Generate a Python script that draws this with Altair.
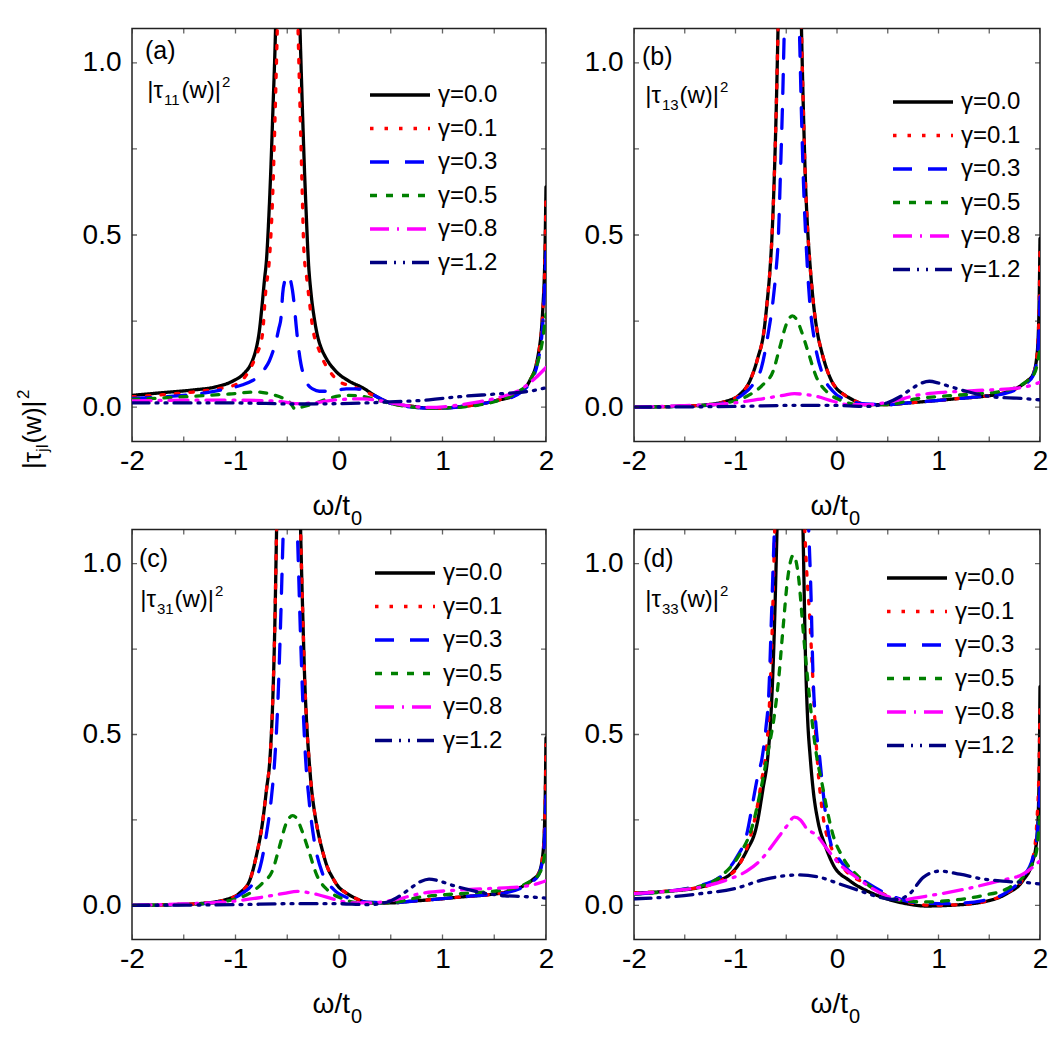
import altair as alt
import pandas as pd

GAMMAS = ["γ=0.0", "γ=0.1", "γ=0.3", "γ=0.5", "γ=0.8", "γ=1.2"]
COLORS = ["#000000", "#ff0000", "#0000ff", "#008000", "#ff00ff", "#000080"]
DASHES = [[1, 0], [3.5, 11], [19, 16], [7, 9], [19, 8, 2, 8], [17, 7, 2, 7, 2, 7]]

X_MAJOR = [-2, -1, 0, 1, 2]
X_TICKS = [-2, -1.5, -1, -0.5, 0, 0.5, 1, 1.5, 2]
Y_MAJOR = [0.0, 0.5, 1.0]
Y_TICKS = [0.0, 0.25, 0.5, 0.75, 1.0]

# ---------------- panel (a) |tau_11|^2 ----------------
A00_X = [-2.0, -1.7, -1.4, -1.2, -1.03, -0.91, -0.86, -0.83, -0.80, -0.77, -0.745, -0.72, -0.70, -0.68, -0.66, -0.64, -0.613, -0.58, -0.5, -0.42, -0.377, -0.355, -0.335, -0.315, -0.297, -0.27, -0.24, -0.21, -0.17, -0.13, -0.03, 0.10, 0.23, 0.36, 0.49, 0.71, 0.87, 1.05, 1.19, 1.35, 1.52, 1.71, 1.84, 1.92, 1.97, 1.99, 2.0]
A00_Y = [0.034, 0.042, 0.050, 0.058, 0.075, 0.10, 0.12, 0.14, 0.17, 0.22, 0.29, 0.37, 0.43, 0.54, 0.68, 0.85, 1.1, 1.6, 3.0, 1.6, 1.1, 0.88, 0.70, 0.55, 0.43, 0.33, 0.26, 0.21, 0.17, 0.145, 0.104, 0.075, 0.056, 0.031, 0.012, 0.002, -0.003, -0.002, 0.002, 0.008, 0.019, 0.036, 0.075, 0.144, 0.29, 0.45, 0.64]
A01_X = [-2.0, -1.7, -1.4, -1.2, -1.0, -0.93, -0.87, -0.80, -0.74, -0.71, -0.67, -0.64, -0.62, -0.596, -0.5, -0.396, -0.375, -0.355, -0.34, -0.31, -0.287, -0.254, -0.19, -0.09, 0.0, 0.13, 0.29, 0.42, 0.55, 0.71, 0.87, 1.05, 1.19, 1.35, 1.52, 1.71, 1.84, 1.92, 1.97, 1.99, 2.0]
A01_Y = [0.03, 0.036, 0.044, 0.052, 0.065, 0.08, 0.105, 0.15, 0.21, 0.33, 0.44, 0.62, 0.82, 1.1, 2.5, 1.1, 0.85, 0.62, 0.46, 0.37, 0.31, 0.23, 0.163, 0.104, 0.075, 0.06, 0.04, 0.021, 0.008, 0.002, -0.003, -0.002, 0.002, 0.008, 0.019, 0.036, 0.075, 0.144, 0.28, 0.43, 0.62]
A03_X = [-2.0, -1.6, -1.38, -1.12, -0.93, -0.83, -0.77, -0.72, -0.673, -0.64, -0.61, -0.58, -0.56, -0.544, -0.52, -0.496, -0.47, -0.45, -0.43, -0.415, -0.39, -0.367, -0.33, -0.30, -0.25, -0.19, -0.093, 0.0, 0.07, 0.15, 0.23, 0.36, 0.49, 0.71, 0.87, 1.05, 1.19, 1.35, 1.52, 1.71, 1.84, 1.92, 1.97, 2.0]
A03_Y = [0.025, 0.032, 0.038, 0.051, 0.065, 0.078, 0.09, 0.11, 0.134, 0.16, 0.19, 0.23, 0.26, 0.33, 0.37, 0.383, 0.37, 0.34, 0.29, 0.24, 0.17, 0.124, 0.085, 0.065, 0.052, 0.046, 0.046, 0.05, 0.053, 0.053, 0.051, 0.031, 0.012, 0.0, -0.003, -0.002, 0.002, 0.008, 0.018, 0.034, 0.07, 0.13, 0.25, 0.45]
A05_X = [-2.0, -1.5, -1.06, -0.80, -0.64, -0.55, -0.48, -0.42, -0.36, -0.22, -0.09, 0.07, 0.23, 0.39, 0.55, 0.71, 0.87, 1.05, 1.19, 1.35, 1.52, 1.71, 1.84, 1.92, 1.97, 2.0]
A05_Y = [0.022, 0.03, 0.038, 0.044, 0.036, 0.027, 0.015, -0.006, 0.0, 0.012, 0.026, 0.034, 0.031, 0.019, 0.007, 0.0, -0.003, -0.002, 0.0, 0.006, 0.017, 0.041, 0.075, 0.13, 0.2, 0.27]
A08_X = [-2.0, -1.5, -1.0, -0.58, -0.42, -0.25, -0.03, 0.23, 0.42, 0.71, 0.87, 1.05, 1.19, 1.35, 1.52, 1.78, 1.9, 2.0]
A08_Y = [0.018, 0.02, 0.02, 0.017, 0.01, 0.012, 0.021, 0.024, 0.017, 0.002, -0.001, 0.002, 0.007, 0.015, 0.026, 0.056, 0.085, 0.115]
A12_X = [-2.0, -1.5, -1.0, -0.42, 0.0, 0.42, 0.87, 1.19, 1.52, 1.84, 2.0]
A12_Y = [0.012, 0.012, 0.012, 0.009, 0.01, 0.014, 0.021, 0.031, 0.038, 0.046, 0.056]

# ---------------- panel (b) |tau_13|^2 ----------------
B00_X = [-2.0, -1.6, -1.35, -1.09, -0.96, -0.86, -0.78, -0.72, -0.69, -0.66, -0.64, -0.62, -0.60, -0.581, -0.55, -0.46, -0.38, -0.35, -0.33, -0.31, -0.29, -0.27, -0.245, -0.22, -0.19, -0.15, -0.105, -0.06, -0.007, 0.06, 0.125, 0.2, 0.29, 0.49, 0.7, 0.946, 1.2, 1.44, 1.6, 1.77, 1.87, 1.93, 1.97, 1.99, 2.0]
B00_Y = [0.0, 0.002, 0.005, 0.017, 0.036, 0.075, 0.143, 0.22, 0.30, 0.40, 0.50, 0.65, 0.85, 1.1, 1.6, 3.0, 1.6, 1.1, 0.85, 0.65, 0.52, 0.43, 0.34, 0.27, 0.211, 0.16, 0.114, 0.08, 0.055, 0.038, 0.026, 0.015, 0.007, 0.007, 0.012, 0.018, 0.025, 0.031, 0.038, 0.055, 0.075, 0.094, 0.15, 0.28, 0.49]
B01_X = [-2.0, -1.6, -1.35, -1.09, -0.96, -0.86, -0.78, -0.72, -0.69, -0.66, -0.64, -0.62, -0.60, -0.581, -0.55, -0.46, -0.38, -0.35, -0.33, -0.31, -0.29, -0.27, -0.245, -0.22, -0.19, -0.15, -0.105, -0.06, -0.007, 0.06, 0.125, 0.2, 0.29, 0.49, 0.7, 0.946, 1.2, 1.44, 1.6, 1.77, 1.87, 1.93, 1.97, 1.99, 2.0]
B01_Y = [0.0, 0.002, 0.005, 0.017, 0.036, 0.075, 0.143, 0.22, 0.30, 0.40, 0.50, 0.65, 0.85, 1.1, 1.6, 3.0, 1.6, 1.1, 0.85, 0.65, 0.52, 0.43, 0.34, 0.27, 0.211, 0.16, 0.114, 0.08, 0.055, 0.038, 0.026, 0.015, 0.007, 0.007, 0.012, 0.018, 0.025, 0.031, 0.038, 0.055, 0.075, 0.094, 0.15, 0.27, 0.47]
B03_X = [-2.0, -1.35, -1.09, -0.93, -0.83, -0.745, -0.68, -0.63, -0.598, -0.58, -0.555, -0.535, -0.519, -0.45, -0.371, -0.35, -0.33, -0.30, -0.27, -0.22, -0.14, -0.04, 0.09, 0.29, 0.49, 0.7, 0.946, 1.2, 1.44, 1.6, 1.77, 1.87, 1.93, 1.97, 1.99, 2.0]
B03_Y = [0.0, 0.004, 0.014, 0.036, 0.065, 0.114, 0.21, 0.31, 0.405, 0.48, 0.70, 0.90, 1.1, 1.5, 1.1, 0.85, 0.65, 0.45, 0.31, 0.19, 0.094, 0.046, 0.021, 0.009, 0.007, 0.012, 0.018, 0.025, 0.031, 0.036, 0.052, 0.07, 0.09, 0.14, 0.22, 0.32]
B05_X = [-2.0, -1.35, -1.02, -0.86, -0.73, -0.63, -0.565, -0.50, -0.44, -0.39, -0.35, -0.286, -0.20, -0.105, 0.026, 0.22, 0.49, 0.78, 1.11, 1.44, 1.6, 1.77, 1.87, 1.93, 1.97, 2.0]
B05_Y = [0.0, 0.004, 0.017, 0.036, 0.065, 0.104, 0.172, 0.24, 0.265, 0.25, 0.22, 0.162, 0.085, 0.046, 0.021, 0.007, 0.007, 0.024, 0.033, 0.04, 0.045, 0.058, 0.075, 0.09, 0.12, 0.17]
B08_X = [-2.0, -1.5, -1.02, -0.70, -0.53, -0.42, -0.33, -0.20, -0.04, 0.125, 0.29, 0.55, 0.78, 1.11, 1.44, 1.77, 1.9, 2.0]
B08_Y = [0.0, 0.004, 0.012, 0.026, 0.034, 0.039, 0.037, 0.031, 0.017, 0.007, 0.007, 0.017, 0.034, 0.044, 0.049, 0.055, 0.062, 0.072]
B12_X = [-2.0, -1.0, -0.4, -0.04, 0.29, 0.49, 0.62, 0.72, 0.82, 0.91, 1.0, 1.11, 1.27, 1.44, 1.6, 1.77, 2.0]
B12_Y = [0.0, 0.002, 0.005, 0.005, 0.002, 0.012, 0.03, 0.05, 0.068, 0.075, 0.07, 0.06, 0.046, 0.034, 0.028, 0.026, 0.021]

# ---------------- panel (c) |tau_31|^2 ----------------
C00_X = [-2.0, -1.6, -1.35, -1.09, -0.96, -0.86, -0.80, -0.74, -0.70, -0.667, -0.64, -0.62, -0.603, -0.57, -0.49, -0.40, -0.371, -0.35, -0.33, -0.31, -0.29, -0.265, -0.235, -0.20, -0.16, -0.115, -0.06, -0.007, 0.06, 0.125, 0.2, 0.29, 0.49, 0.7, 0.946, 1.2, 1.44, 1.6, 1.77, 1.87, 1.93, 1.97, 1.99, 2.0]
C00_Y = [0.0, 0.002, 0.005, 0.017, 0.036, 0.075, 0.143, 0.24, 0.34, 0.43, 0.60, 0.82, 1.1, 1.6, 3.0, 1.6, 1.1, 0.85, 0.65, 0.52, 0.43, 0.34, 0.27, 0.211, 0.16, 0.114, 0.08, 0.055, 0.038, 0.026, 0.015, 0.007, 0.007, 0.012, 0.018, 0.025, 0.031, 0.038, 0.055, 0.075, 0.094, 0.15, 0.28, 0.49]
C01_X = [-2.0, -1.6, -1.35, -1.09, -0.96, -0.86, -0.80, -0.74, -0.70, -0.667, -0.64, -0.62, -0.603, -0.57, -0.49, -0.40, -0.371, -0.35, -0.33, -0.31, -0.29, -0.265, -0.235, -0.20, -0.16, -0.115, -0.06, -0.007, 0.06, 0.125, 0.2, 0.29, 0.49, 0.7, 0.946, 1.2, 1.44, 1.6, 1.77, 1.87, 1.93, 1.97, 1.99, 2.0]
C01_Y = [0.0, 0.002, 0.005, 0.017, 0.036, 0.075, 0.143, 0.24, 0.34, 0.43, 0.60, 0.82, 1.1, 1.6, 3.0, 1.6, 1.1, 0.85, 0.65, 0.52, 0.43, 0.34, 0.27, 0.211, 0.16, 0.114, 0.08, 0.055, 0.038, 0.026, 0.015, 0.007, 0.007, 0.012, 0.018, 0.025, 0.031, 0.038, 0.055, 0.075, 0.094, 0.15, 0.27, 0.47]
C03_X = [-2.0, -1.35, -1.09, -0.93, -0.83, -0.76, -0.70, -0.655, -0.62, -0.59, -0.565, -0.538, -0.47, -0.403, -0.375, -0.35, -0.323, -0.29, -0.24, -0.16, -0.05, 0.09, 0.29, 0.49, 0.7, 0.946, 1.2, 1.44, 1.6, 1.77, 1.87, 1.93, 1.97, 1.99, 2.0]
C03_Y = [0.0, 0.004, 0.014, 0.036, 0.065, 0.114, 0.21, 0.31, 0.43, 0.60, 0.82, 1.1, 1.5, 1.1, 0.82, 0.60, 0.43, 0.31, 0.19, 0.094, 0.046, 0.021, 0.009, 0.007, 0.012, 0.018, 0.025, 0.031, 0.036, 0.052, 0.07, 0.09, 0.14, 0.22, 0.32]
C05_X = [-2.0, -1.35, -1.02, -0.86, -0.74, -0.64, -0.575, -0.51, -0.448, -0.40, -0.36, -0.295, -0.21, -0.115, 0.02, 0.22, 0.49, 0.78, 1.11, 1.44, 1.6, 1.77, 1.87, 1.93, 1.97, 2.0]
C05_Y = [0.0, 0.004, 0.017, 0.036, 0.065, 0.104, 0.172, 0.24, 0.2625, 0.25, 0.22, 0.162, 0.085, 0.046, 0.021, 0.007, 0.007, 0.024, 0.033, 0.04, 0.045, 0.058, 0.075, 0.09, 0.12, 0.17]
C08_X = [-2.0, -1.5, -1.02, -0.70, -0.53, -0.40, -0.31, -0.20, -0.04, 0.125, 0.29, 0.55, 0.78, 1.11, 1.44, 1.77, 1.9, 2.0]
C08_Y = [0.0, 0.004, 0.012, 0.026, 0.035, 0.041, 0.038, 0.031, 0.017, 0.007, 0.007, 0.017, 0.034, 0.044, 0.049, 0.055, 0.062, 0.072]
C12_X = [-2.0, -1.0, -0.4, -0.04, 0.29, 0.49, 0.6, 0.7, 0.79, 0.87, 0.96, 1.08, 1.25, 1.44, 1.6, 1.77, 2.0]
C12_Y = [0.0, 0.002, 0.005, 0.005, 0.002, 0.012, 0.03, 0.052, 0.07, 0.077, 0.072, 0.06, 0.046, 0.034, 0.028, 0.026, 0.021]

# ---------------- panel (d) |tau_33|^2 ----------------
D00_X = [-2.0, -1.68, -1.35, -1.16, -1.02, -0.89, -0.79, -0.73, -0.68, -0.65, -0.62, -0.591, -0.55, -0.47, -0.38, -0.335, -0.31, -0.29, -0.263, -0.236, -0.187, -0.12, -0.04, 0.125, 0.29, 0.49, 0.68, 0.88, 1.11, 1.44, 1.67, 1.83, 1.93, 1.97, 1.99, 2.0]
D00_Y = [0.036, 0.041, 0.053, 0.072, 0.10, 0.16, 0.235, 0.34, 0.44, 0.56, 0.78, 1.1, 1.6, 3.0, 1.6, 1.1, 0.72, 0.55, 0.43, 0.341, 0.245, 0.178, 0.12, 0.072, 0.043, 0.019, 0.005, -0.002, 0.0, 0.01, 0.034, 0.072, 0.13, 0.2, 0.35, 0.64]
D01_X = [-2.0, -1.35, -1.09, -0.96, -0.877, -0.795, -0.74, -0.706, -0.68, -0.65, -0.63, -0.614, -0.47, -0.318, -0.295, -0.272, -0.256, -0.239, -0.223, -0.206, -0.185, -0.155, -0.12, -0.07, -0.02, 0.09, 0.29, 0.49, 0.68, 0.945, 1.2, 1.44, 1.67, 1.83, 1.93, 1.97, 1.99, 2.0]
D01_Y = [0.036, 0.053, 0.082, 0.12, 0.178, 0.274, 0.37, 0.43, 0.515, 0.70, 0.90, 1.1, 2.2, 1.1, 0.96, 0.86, 0.77, 0.67, 0.57, 0.48, 0.39, 0.30, 0.23, 0.18, 0.145, 0.10, 0.0625, 0.029, 0.01, 0.0, 0.002, 0.01, 0.036, 0.076, 0.14, 0.25, 0.4, 0.58]
D03_X = [-2.0, -1.35, -1.12, -0.99, -0.89, -0.83, -0.78, -0.739, -0.70, -0.673, -0.645, -0.617, -0.45, -0.279, -0.256, -0.24, -0.204, -0.17, -0.14, -0.105, -0.06, 0.0, 0.09, 0.29, 0.49, 0.78, 1.11, 1.44, 1.67, 1.83, 1.93, 1.97, 2.0]
D03_Y = [0.033, 0.058, 0.091, 0.14, 0.207, 0.30, 0.38, 0.43, 0.52, 0.613, 0.85, 1.1, 1.8, 1.1, 0.907, 0.711, 0.515, 0.43, 0.34, 0.25, 0.18, 0.145, 0.11, 0.067, 0.034, 0.008, 0.005, 0.014, 0.038, 0.082, 0.14, 0.2, 0.345]
D05_X = [-2.0, -1.35, -1.12, -0.96, -0.84, -0.75, -0.68, -0.62, -0.575, -0.532, -0.486, -0.43, -0.377, -0.335, -0.289, -0.236, -0.197, -0.15, -0.105, -0.04, 0.06, 0.22, 0.39, 0.62, 0.88, 1.11, 1.44, 1.67, 1.83, 1.96, 2.0]
D05_Y = [0.033, 0.056, 0.091, 0.149, 0.226, 0.34, 0.45, 0.55, 0.662, 0.81, 0.956, 1.025, 0.956, 0.81, 0.662, 0.515, 0.43, 0.36, 0.29, 0.207, 0.139, 0.082, 0.043, 0.014, 0.01, 0.014, 0.029, 0.048, 0.082, 0.15, 0.276]
D08_X = [-2.0, -1.68, -1.35, -1.06, -0.89, -0.76, -0.63, -0.50, -0.42, -0.36, -0.30, -0.2, -0.105, 0.026, 0.19, 0.355, 0.52, 0.65, 0.78, 0.945, 1.27, 1.6, 1.83, 2.0]
D08_Y = [0.034, 0.041, 0.053, 0.077, 0.10, 0.13, 0.178, 0.23, 0.258, 0.25, 0.225, 0.205, 0.168, 0.12, 0.082, 0.048, 0.024, 0.016, 0.022, 0.03, 0.048, 0.072, 0.091, 0.13]
D12_X = [-2.0, -1.68, -1.35, -1.02, -0.70, -0.37, -0.17, 0.026, 0.22, 0.42, 0.585, 0.72, 0.85, 1.01, 1.21, 1.44, 1.67, 1.93, 2.0]
D12_Y = [0.019, 0.024, 0.034, 0.048, 0.077, 0.089, 0.082, 0.0625, 0.043, 0.024, 0.017, 0.035, 0.082, 0.10, 0.091, 0.077, 0.07, 0.065, 0.0625]

FONT = "Liberation Sans"
ONE = pd.DataFrame({"k": [0]})


def series_df(xs_list, ys_list):
    rows = []
    for g, xs, ys in zip(GAMMAS, xs_list, ys_list):
        if len(xs) != len(ys):
            raise ValueError("length mismatch for " + g)
        for x, y in zip(xs, ys):
            rows.append({"x": x, "y": y, "g": g})
    return pd.DataFrame(rows)


x_enc = alt.X(
    "x:Q",
    scale=alt.Scale(domain=[-2, 2], nice=False, zero=False),
    axis=alt.Axis(values=X_MAJOR, ticks=False, domain=False, grid=False, title=None,
                  labelExpr="datum.value < 0 ? '-' + abs(datum.value) : '' + datum.value",
                  labelFont=FONT, labelFontSize=28, labelColor="#000", labelPadding=6,
                  labelFlush=False, labelOverlap=False),
)
y_enc = alt.Y(
    "y:Q",
    scale=alt.Scale(domain=[-0.1, 1.1], nice=False, zero=False),
    axis=alt.Axis(values=Y_MAJOR, format=".1f", ticks=False, domain=False, grid=False, title=None,
                  labelFont=FONT, labelFontSize=28, labelColor="#000", labelPadding=11,
                  labelFlush=False, labelOverlap=False),
)

xt_df = pd.DataFrame([{"x": v, "y": yy} for v in X_TICKS for yy in (-0.1, 1.1)])
yt_df = pd.DataFrame([{"x": xx, "y": v} for v in Y_TICKS for xx in (-2, 2)])


def txt(s, x, y, size, align="left", angle=0):
    return alt.Chart(ONE).mark_text(
        text=s, align=align, baseline="alphabetic", font=FONT, fontSize=size,
        color="#000", angle=angle,
    ).encode(x=alt.value(x), y=alt.value(y))


def panel(df, W, H, letter, sub, leg_xy, lab_xy, tau_xy, ytitle=False):
    leg = alt.Legend(
        title=None, orient="none", legendX=leg_xy[0], legendY=leg_xy[1],
        symbolType="M-6,0H6", symbolSize=100, symbolStrokeWidth=3.3,
        labelFont=FONT, labelFontSize=24, labelColor="#000", labelOffset=26,
        rowPadding=9.5, padding=0, labelLimit=300,
    )
    lines = alt.Chart(df).mark_line(
        clip=True, interpolate="monotone", strokeWidth=3.3, strokeCap="round"
    ).encode(
        x=x_enc, y=y_enc,
        color=alt.Color("g:N", scale=alt.Scale(domain=GAMMAS, range=COLORS), legend=leg),
        strokeDash=alt.StrokeDash("g:N", scale=alt.Scale(domain=GAMMAS, range=DASHES), legend=leg),
    )
    xt = alt.Chart(xt_df).mark_tick(orient="vertical", size=10, thickness=1.3,
                                    color="#222", clip=True).encode(x=x_enc, y=y_enc)
    yt = alt.Chart(yt_df).mark_tick(orient="horizontal", size=10, thickness=1.3,
                                    color="#222", clip=True).encode(x=x_enc, y=y_enc)
    tx, ty = tau_xy
    layers = [
        lines, xt, yt,
        txt("(" + letter + ")", lab_xy[0], lab_xy[1], 25),
        txt("|τ", tx + 17, ty, 24, align="right"),
        txt(sub, tx + 18, ty + 7, 15),
        txt("(w)|", tx + 35.5, ty, 24),
        txt("2", tx + 76, ty - 11, 15),
        txt("ω/t", W / 2 + 11, H + 73, 28, align="right"),
        txt("0", W / 2 + 12, H + 83, 20),
    ]
    if ytitle:
        xb, yj = -91, 423.5
        layers += [
            txt("|τ", xb, yj, 26, align="right", angle=270),
            txt("jl", xb + 7, yj, 17, align="left", angle=270),
            txt("(w)|", xb, yj - 8.5, 26, align="left", angle=270),
            txt("2", xb - 12, yj - 53, 17, align="left", angle=270),
        ]
    return alt.layer(*layers).properties(width=W, height=H)


dfa = series_df([A00_X, A01_X, A03_X, A05_X, A08_X, A12_X], [A00_Y, A01_Y, A03_Y, A05_Y, A08_Y, A12_Y])
dfb = series_df([B00_X, B01_X, B03_X, B05_X, B08_X, B12_X], [B00_Y, B01_Y, B03_Y, B05_Y, B08_Y, B12_Y])
dfc = series_df([C00_X, C01_X, C03_X, C05_X, C08_X, C12_X], [C00_Y, C01_Y, C03_Y, C05_Y, C08_Y, C12_Y])
dfd = series_df([D00_X, D01_X, D03_X, D05_X, D08_X, D12_X], [D00_Y, D01_Y, D03_Y, D05_Y, D08_Y, D12_Y])

pa = panel(dfa, 414, 413, "a", "11", (256, 54.5), (13, 30), (14, 69), ytitle=True)
pb = panel(dfb, 406, 413, "b", "13", (277, 61.5), (8, 36), (10, 74))
pc = panel(dfc, 414, 410, "c", "31", (261, 31.5), (7, 37), (7, 77))
pd_ = panel(dfd, 406, 410, "d", "33", (271, 36.5), (9, 37), (10, 77))

chart = alt.concat(pa, pb, pc, pd_, columns=2, spacing=88, bounds="flush").resolve_scale(
    color="independent", strokeDash="independent"
).resolve_legend(
    color="independent", strokeDash="independent"
).properties(
    padding={"left": 14, "top": 27.5, "right": 5, "bottom": 5}
).configure_view(stroke="#222", strokeWidth=1.5)

chart.save("out.html", embed_options={"renderer": "svg", "actions": False})
